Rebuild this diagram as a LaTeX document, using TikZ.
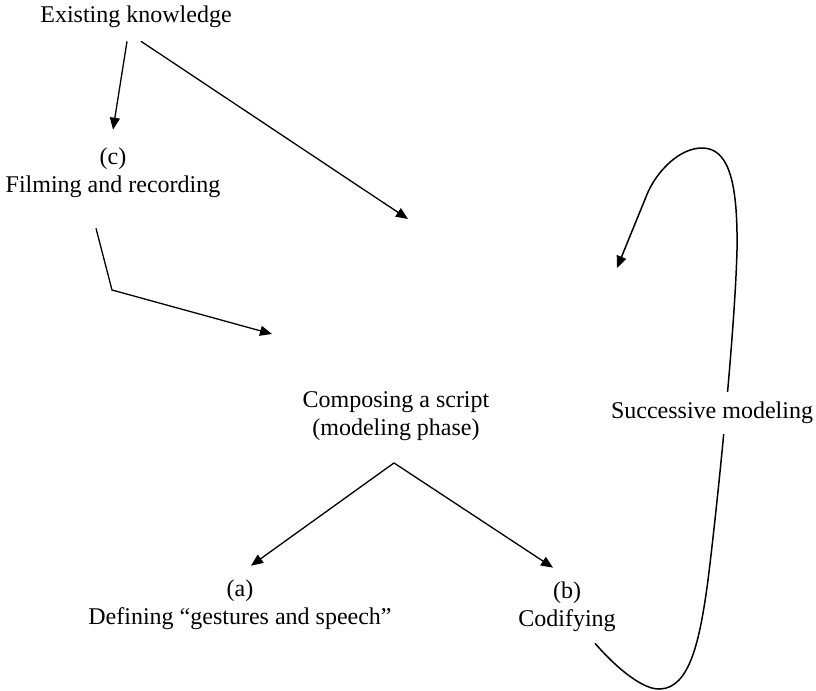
\documentclass[tikz,border=0pt]{standalone}
\usepackage{fontspec}
\setmainfont{Liberation Serif}
\usepackage{tikz}
\usetikzlibrary{arrows.meta,calc}

\begin{document}
\begin{tikzpicture}[
		x=0.5pt, y=-0.5pt,
		lbl/.style  = {font=\fontsize{12}{14}\selectfont, align=center, inner sep=2pt},
		gap/.style  = {lbl, fill=white, inner ysep=5pt},
		arr/.style  = {-{Triangle[length=6pt,width=5pt]}, line width=0.65pt}]
		
		\useasboundingbox (0,0) rectangle (816,691);
		
		% the labels, placed at coordinates
		\node[lbl] (know) at (136,17)  {Existing knowledge};
		\node[lbl] (film) at (113,173) {(c)\\Filming and recording};
		\node[lbl] (comp) at (396,416) {Composing a script\\(modeling phase)};
		\node[lbl] (defn) at (240,605) {(a)\\Defining “gestures and speech”};
		\node[lbl] (codf) at (567,607) {(b)\\Codifying};
		
		% free ends of the arrows
		\coordinate (ktip)  at (408,219);
		\coordinate (fbend) at (112,290);
		\coordinate (ftip)  at (272,334);
		\coordinate (stip)  at (617,268);
		
		% arrows from the existing knowledge
		\draw[arr] ([xshift=-4.5pt,yshift=-4.5pt]know.south) -- ([yshift=7pt]film.north);
		\draw[arr] ([xshift=2.5pt,yshift=-4.5pt]know.south) -- (ktip);
		
		% filming feeds the script
		\draw[arr] ([xshift=-8.5pt,yshift=-13pt]film.south) -- (fbend) -- (ftip);
		
		% the script splits into (a) and (b)
		\foreach \leaf/\dx in {defn/5.5pt, codf/-7pt}
		\draw[arr] ([xshift=-1pt,yshift=-9pt]comp.south) -- ([xshift=\dx,yshift=5pt]\leaf.north);
		
		% loop of successive modeling
		\draw[arr, line width=0.75pt] ([xshift=14pt,yshift=-3.5pt]codf.south)
		.. controls (620,672) and (645,690) .. (660,689)
		.. controls (690,688) and (700,640) .. (708,580)
		.. controls (718,500) and (735,330) .. (737,250)
		.. controls (738,180) and (728,148) .. (702,148)
		.. controls (680,148) and (658,170) .. (648,192)
		-- (stip);
		\node[gap] (succ) at (712,413) {Successive modeling};
	\end{tikzpicture}
\end{document}
